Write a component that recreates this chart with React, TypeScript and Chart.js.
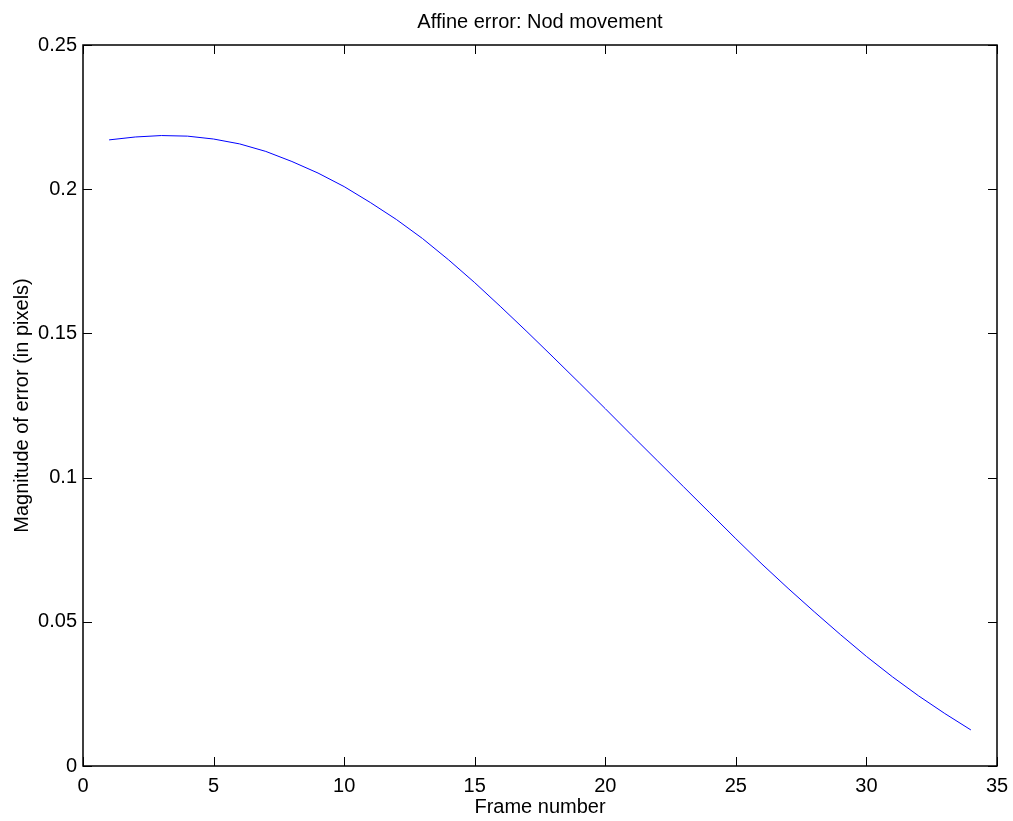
import React, { useEffect, useRef } from "react";
import { Chart, registerables } from "chart.js";

Chart.register(...registerables);

const frames = [1, 2, 3, 4, 5, 6, 7, 8, 9, 10, 11, 12, 13, 14, 15, 16, 17, 18, 19, 20, 21, 22, 23, 24, 25, 26, 27, 28, 29, 30, 31, 32, 33, 34];
const errors = [
  0.2171, 0.2181, 0.2186, 0.2184, 0.2174, 0.2157, 0.2131, 0.2096, 0.2056, 0.2009,
  0.1954, 0.1895, 0.1829, 0.1755, 0.1676, 0.1592, 0.1506, 0.1418, 0.1329, 0.1239,
  0.1148, 0.1058, 0.0968, 0.0878, 0.0788, 0.0700, 0.0616, 0.0535, 0.0456, 0.0380,
  0.0309, 0.0243, 0.0182, 0.0125,
];
const xTicks = [0, 5, 10, 15, 20, 25, 30, 35];
const yTicks = [0, 0.05, 0.1, 0.15, 0.2, 0.25];
const titleText = "Affine error: Nod movement";
const xLabel = "Frame number";
const yLabel = "Magnitude of error (in pixels)";

const FONT = "'Liberation Sans', Arial, Helvetica, sans-serif";

const frameTicks = {
  id: "frameTicks",
  afterDraw(chart: any) {
    const { ctx, chartArea } = chart;
    const { left, right, top, bottom } = chartArea;
    const xs = chart.scales.x;
    const ys = chart.scales.y;
    const len = 9;
    ctx.save();
    ctx.strokeStyle = "#000";
    ctx.lineWidth = 1;
    ctx.beginPath();
    for (const t of xTicks) {
      const px = Math.round(xs.getPixelForValue(t)) + 0.5;
      ctx.moveTo(px, bottom);
      ctx.lineTo(px, bottom - len);
      ctx.moveTo(px, top);
      ctx.lineTo(px, top + len);
    }
    for (const t of yTicks) {
      const py = Math.round(ys.getPixelForValue(t)) + 0.5;
      ctx.moveTo(left, py);
      ctx.lineTo(left + len, py);
      ctx.moveTo(right, py);
      ctx.lineTo(right - len, py);
    }
    ctx.stroke();
    ctx.lineWidth = 1.5;
    ctx.strokeRect(left, top, right - left, bottom - top);
    ctx.fillStyle = "#000";
    ctx.font = `20px ${FONT}`;
    ctx.textAlign = "center";
    ctx.textBaseline = "middle";
    ctx.fillText(titleText, (left + right) / 2, 22);
    ctx.restore();
  },
};

export default function App() {
  const ref = useRef<HTMLCanvasElement | null>(null);
  useEffect(() => {
    if (!ref.current) return;
    const chart = new Chart(ref.current, {
      type: "line",
      data: {
        datasets: [
          {
            data: frames.map((f, i) => ({ x: f, y: errors[i] })),
            borderColor: "#0000ff",
            borderWidth: 1,
            pointRadius: 0,
            fill: false,
            tension: 0,
          },
        ],
      },
      options: {
        animation: false,
        responsive: true,
        maintainAspectRatio: false,
        layout: { padding: { top: 45, right: 16, left: 0, bottom: 0 } },
        plugins: { legend: { display: false }, tooltip: { enabled: false }, title: { display: false } },
        scales: {
          x: {
            type: "linear",
            min: 0,
            max: 35,
            afterFit(scale: any) {
              scale.height = 55;
              scale.paddingLeft = 0;
              scale.paddingRight = 0;
            },
            afterBuildTicks(scale: any) {
              scale.ticks = xTicks.map((v) => ({ value: v }));
            },
            grid: { display: false, drawTicks: false },
            border: { display: false },
            ticks: {
              color: "#000",
              font: { family: FONT, size: 20 },
              padding: 8,
              maxRotation: 0,
              callback: (v: any) => String(v),
            },
            title: {
              display: true,
              text: xLabel,
              color: "#000",
              font: { family: FONT, size: 20 },
              padding: { top: 0, bottom: 2 },
            },
          },
          y: {
            type: "linear",
            min: 0,
            max: 0.25,
            afterFit(scale: any) {
              scale.width = 83;
              scale.paddingTop = 0;
              scale.paddingBottom = 0;
            },
            afterBuildTicks(scale: any) {
              scale.ticks = yTicks.map((v) => ({ value: v }));
            },
            grid: { display: false, drawTicks: false },
            border: { display: false },
            ticks: {
              color: "#000",
              font: { family: FONT, size: 20 },
              padding: 6,
              callback: (v: any) => String(Number(Number(v).toFixed(2))),
            },
            title: {
              display: true,
              text: yLabel,
              color: "#000",
              font: { family: FONT, size: 20 },
              padding: { top: 10, bottom: 0 },
            },
          },
        },
      },
      plugins: [frameTicks],
    });
    return () => chart.destroy();
  }, []);
  return (
    <div style={{ position: "fixed", left: 0, top: 0, width: 1013, height: 821, background: "#fff" }}>
      <canvas ref={ref} />
    </div>
  );
}
